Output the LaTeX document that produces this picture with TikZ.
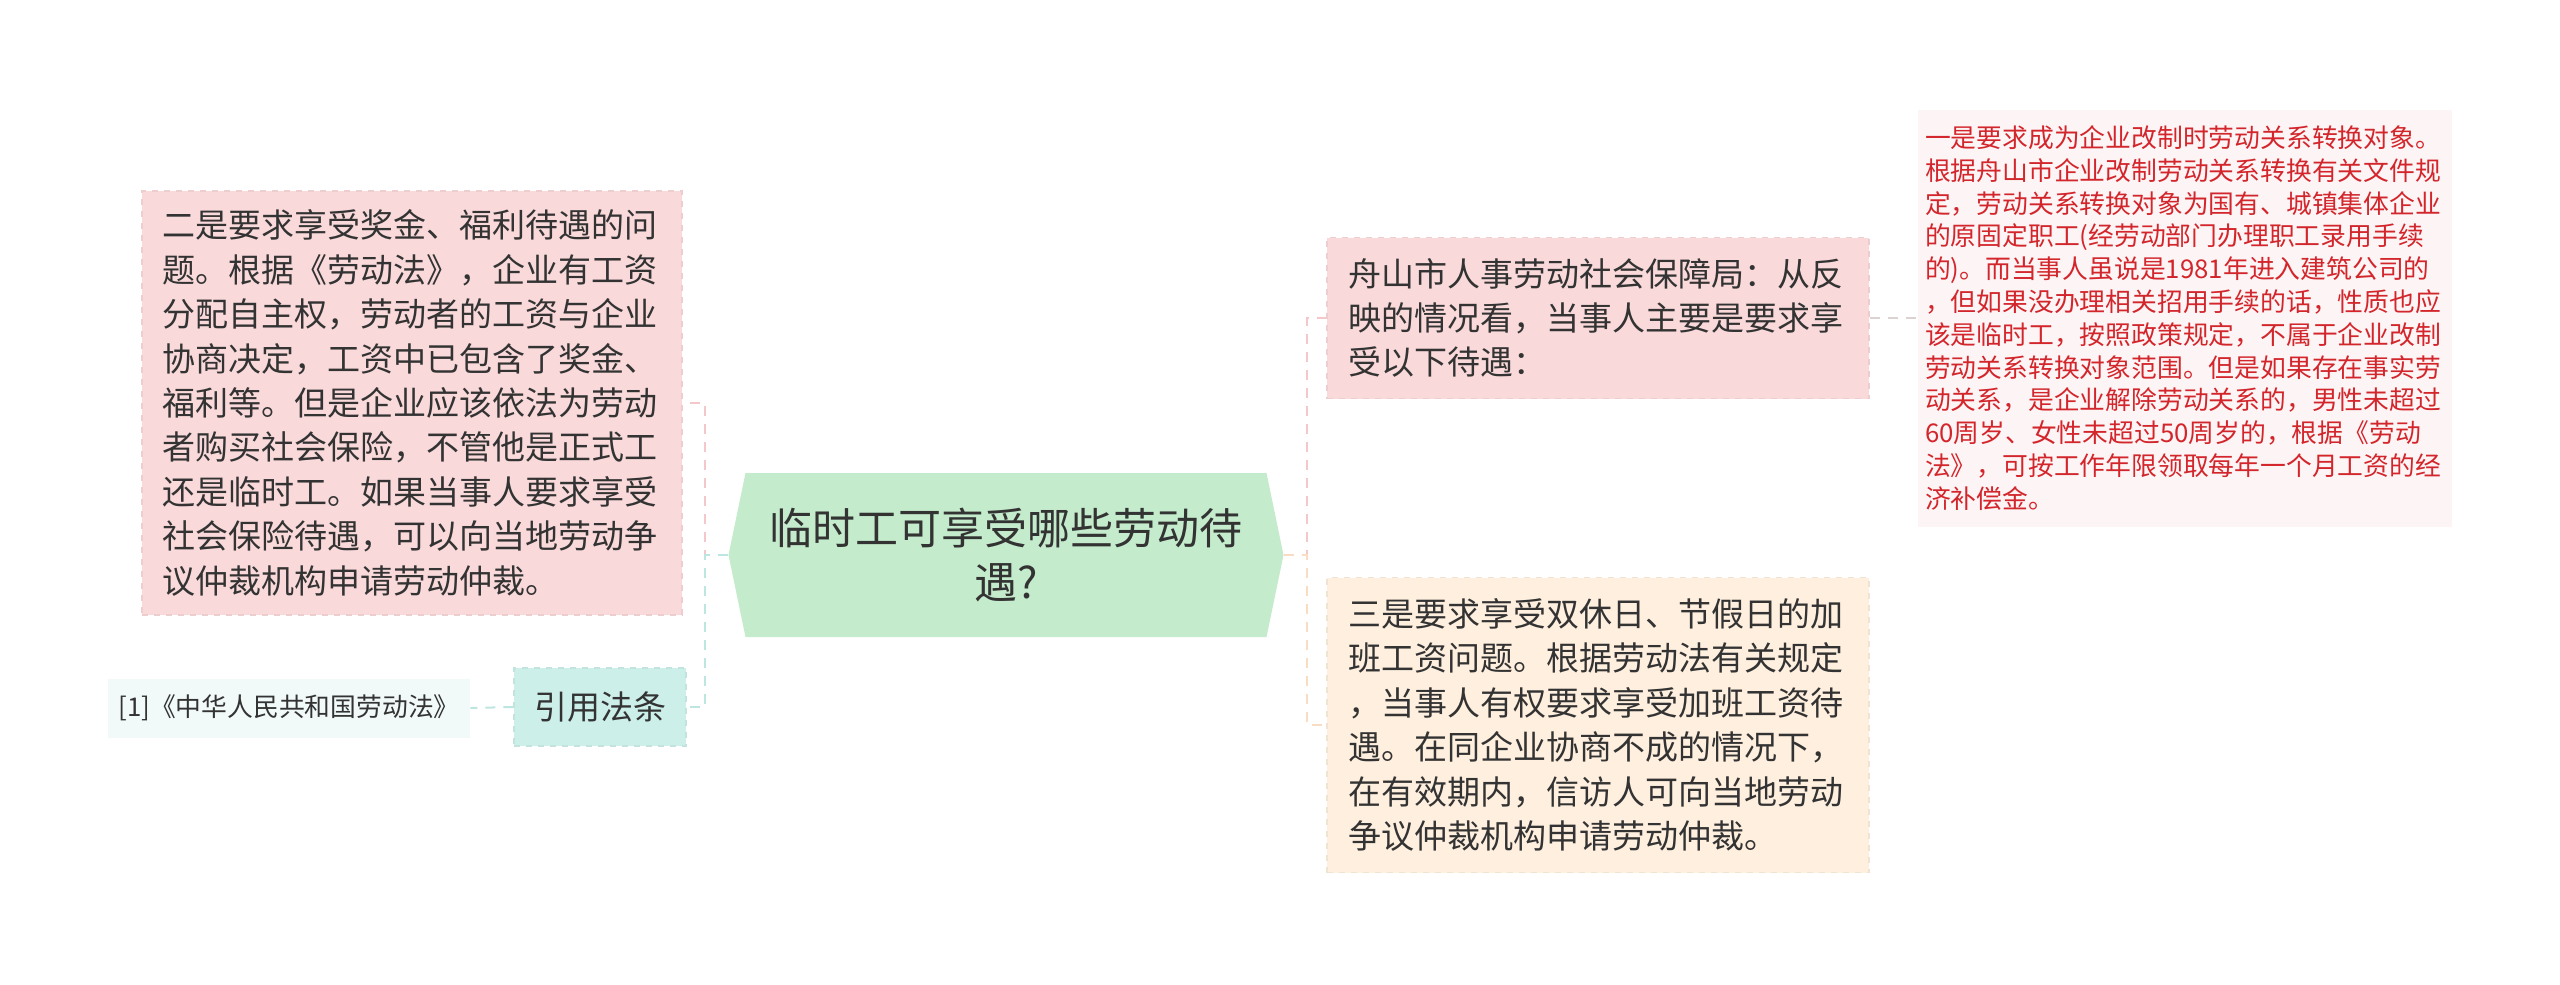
\documentclass[tikz,border=0pt]{standalone}
\usepackage{fontspec}
\setmainfont{Noto Sans CJK SC}
\usepackage{tikz}

\definecolor{rootfill}{HTML}{C4EBCB}
\definecolor{pinkfill}{HTML}{F9D9DA}
\definecolor{pinkline}{HTML}{F4C8CA}
\definecolor{peachfill}{HTML}{FEEFDF}
\definecolor{peachline}{HTML}{F9DDC2}
\definecolor{tealfill}{HTML}{CDEFEA}
\definecolor{tealline}{HTML}{BDE6E0}
\definecolor{notefill}{HTML}{FDF5F5}
\definecolor{noteline}{HTML}{DCD2D2}
\definecolor{reffill}{HTML}{F1F9F9}
\definecolor{notetext}{HTML}{D3262C}
\definecolor{bodytext}{HTML}{333333}

\tikzset{
  topic/.style={rectangle, draw=#1!95!black, dashed, line width=0.6pt, fill=#1,
    text=bodytext, align=left, inner xsep=10pt,
    font=\fontsize{16.5pt}{22.2pt}\selectfont},
  edge/.style={dashed, line width=1pt, dash pattern=on 5pt off 4pt}
}

\begin{document}
\begin{tikzpicture}[x=0.5pt,y=-0.5pt]
            \useasboundingbox (0,0) rectangle (2560,985);

            % Define central node
            \node[rectangle, minimum width=277.5pt, minimum height=82pt, text=bodytext,
                  align=center, font=\fontsize{21.5pt}{27pt}\selectfont,
                  path picture={\fill[rootfill]
                    ([xshift=8.5pt]path picture bounding box.north west) -- (path picture bounding box.west)
                    -- ([xshift=8.5pt]path picture bounding box.south west)
                    -- ([xshift=-8.5pt]path picture bounding box.south east) -- (path picture bounding box.east)
                    -- ([xshift=-8.5pt]path picture bounding box.north east) -- cycle;}]
                  (root) at (1006,555) {临时工可享受哪些劳动待\\遇?};

            % Define topics
            \node[topic=pinkfill, minimum width=270pt, minimum height=212pt, text width=250pt]
                  (bonus) at (412,403)
                  {二是要求享受奖金、福利待遇的问\\题。根据《劳动法》，企业有工资\\分配自主权，劳动者的工资与企业\\协商决定，工资中已包含了奖金、\\福利等。但是企业应该依法为劳动\\者购买社会保险，不管他是正式工\\还是临时工。如果当事人要求享受\\社会保险待遇，可以向当地劳动争\\议仲裁机构申请劳动仲裁。};
            \node[topic=tealfill, minimum width=81.5pt, minimum height=39pt, align=center]
                  (law) at (600,707) {引用法条};
            \node[rectangle, fill=reffill, minimum width=181pt, minimum height=29.5pt,
                  text=bodytext, font=\fontsize{12.9pt}{16pt}\selectfont]
                  (lawref) at (289,708) {[1]《中华人民共和国劳动法》};
            \node[topic=pinkfill, minimum width=271pt, minimum height=80.5pt, text width=250pt]
                  (bureau) at (1598,318)
                  {舟山市人事劳动社会保障局：从反\\映的情况看，当事人主要是要求享\\受以下待遇：};
            \node[topic=peachfill, minimum width=271pt, minimum height=147.5pt, text width=250pt]
                  (overtime) at (1598,725)
                  {三是要求享受双休日、节假日的加\\班工资问题。根据劳动法有关规定\\，当事人有权要求享受加班工资待\\遇。在同企业协商不成的情况下，\\在有效期内，信访人可向当地劳动\\争议仲裁机构申请劳动仲裁。};
            \node[rectangle, fill=notefill, minimum width=267pt, minimum height=208.5pt,
                  text width=260pt, inner xsep=3.5pt, align=left, text=notetext,
                  font=\fontsize{12.9pt}{16.4pt}\selectfont]
                  (first) at (2185,318)
                  {一是要求成为企业改制时劳动关系转换对象。\\根据舟山市企业改制劳动关系转换有关文件规\\定，劳动关系转换对象为国有、城镇集体企业\\的原固定职工(经劳动部门办理职工录用手续\\的)。而当事人虽说是1981年进入建筑公司的\\，但如果没办理相关招用手续的话，性质也应\\该是临时工，按照政策规定，不属于企业改制\\劳动关系转换对象范围。但是如果存在事实劳\\动关系，是企业解除劳动关系的，男性未超过\\60周岁、女性未超过50周岁的，根据《劳动\\法》，可按工作年限领取每年一个月工资的经\\济补偿金。};

            % Draw edges
            \draw[edge, pinkline] (root.west) -- ++(-23,0) |- (bonus.east);
            \draw[edge, tealline] (root.west) -- ++(-23,0) |- (law.east);
            \draw[edge, tealline] (law.west) -- (lawref.east);
            \draw[edge, pinkline] (root.east) -- ++(23,0) |- (bureau.west);
            \draw[edge, peachline] (root.east) -- ++(23,0) |- (overtime.west);
            \draw[edge, noteline] (bureau.east) -- (first.west);
        \end{tikzpicture}
\end{document}
